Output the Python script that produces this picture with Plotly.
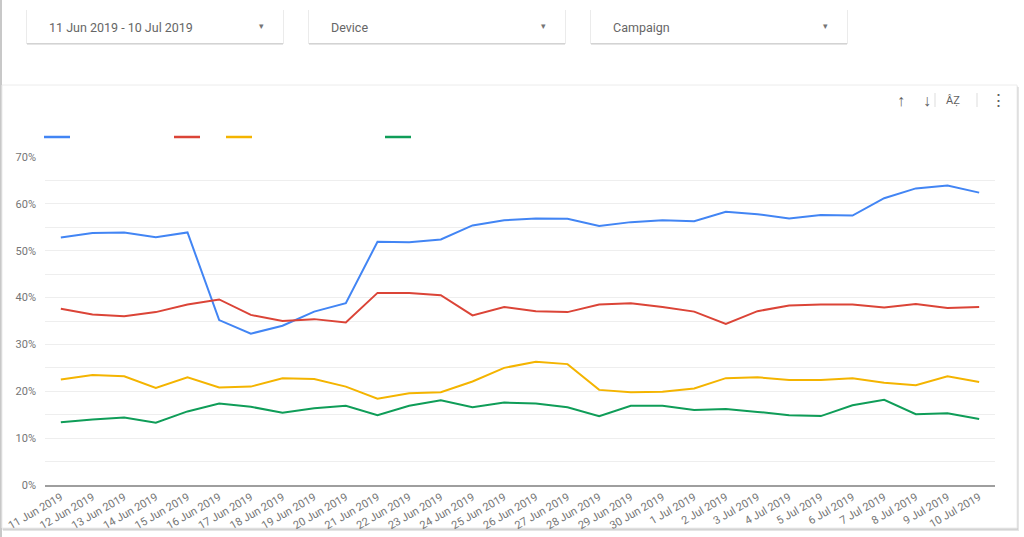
import plotly.graph_objects as go

W, H = 1024, 537

dates = [
    "11 Jun 2019", "12 Jun 2019", "13 Jun 2019", "14 Jun 2019", "15 Jun 2019",
    "16 Jun 2019", "17 Jun 2019", "18 Jun 2019", "19 Jun 2019", "20 Jun 2019",
    "21 Jun 2019", "22 Jun 2019", "23 Jun 2019", "24 Jun 2019", "25 Jun 2019",
    "26 Jun 2019", "27 Jun 2019", "28 Jun 2019", "29 Jun 2019", "30 Jun 2019",
    "1 Jul 2019", "2 Jul 2019", "3 Jul 2019", "4 Jul 2019", "5 Jul 2019",
    "6 Jul 2019", "7 Jul 2019", "8 Jul 2019", "9 Jul 2019", "10 Jul 2019",
]

blue_vals = [52.8, 53.8, 53.9, 52.9, 53.9, 35.2, 32.3, 34.0, 37.0, 38.8,
             51.9, 51.8, 52.4, 55.4, 56.5, 56.9, 56.8, 55.3, 56.1, 56.5,
             56.3, 58.3, 57.8, 56.9, 57.6, 57.5, 61.2, 63.3, 63.9, 62.4]
red_vals = [37.6, 36.4, 36.0, 36.9, 38.5, 39.6, 36.3, 35.0, 35.4, 34.7,
            41.0, 41.0, 40.5, 36.2, 38.0, 37.1, 36.9, 38.5, 38.8, 38.0,
            37.0, 34.4, 37.1, 38.3, 38.5, 38.5, 37.9, 38.6, 37.8, 38.0]
yellow_vals = [22.5, 23.5, 23.2, 20.7, 23.0, 20.8, 21.0, 22.8, 22.6, 21.0,
               18.4, 19.6, 19.8, 22.1, 25.0, 26.3, 25.8, 20.3, 19.8, 19.9,
               20.6, 22.8, 23.0, 22.4, 22.4, 22.8, 21.8, 21.3, 23.2, 22.0]
green_vals = [13.4, 14.0, 14.4, 13.3, 15.7, 17.4, 16.7, 15.4, 16.4, 16.9,
              14.9, 16.9, 18.1, 16.6, 17.6, 17.4, 16.6, 14.7, 16.9, 16.9,
              16.0, 16.2, 15.6, 14.9, 14.7, 17.0, 18.2, 15.1, 15.3, 14.1]

series_names = ["Series 1", "Series 2", "Series 3", "Series 4"]
series_colors = ["#4285f4", "#db4437", "#f4b400", "#0f9d58"]
filters = ["11 Jun 2019 - 10 Jul 2019", "Device", "Campaign"]


def px(x):
    return x / W


def py(y):
    return 1 - y / H


def rect(x0, y0, x1, y1, fill, line=None, width=0):
    return dict(type="rect", xref="paper", yref="paper", layer="below",
                x0=px(x0), x1=px(x1), y0=py(y1), y1=py(y0),
                fillcolor=fill, line=dict(color=line or fill, width=width))


def seg(x0, y0, x1, y1, color, width=1):
    return dict(type="line", xref="paper", yref="paper",
                x0=px(x0), x1=px(x1), y0=py(y0), y1=py(y1),
                line=dict(color=color, width=width))


fig = go.Figure()
for name, vals, color in zip(series_names,
                             [blue_vals, red_vals, yellow_vals, green_vals],
                             series_colors):
    fig.add_trace(go.Scatter(x=dates, y=vals, mode="lines", name=name,
                             line=dict(color=color, width=2)))

shapes = []
# page frame on the left
shapes.append(rect(0, 0, 2, H, "#c8c8c8"))
# chart card with soft shadow
shapes.append(rect(3, 87, 1019, 531, "rgba(0,0,0,0.10)"))
shapes.append(rect(2, 86, 1018, 530, "rgba(0,0,0,0.08)"))
shapes.append(rect(2, 85, 1017, 528, "#ffffff", "#ececec", 1))

# filter boxes
box_x = [27, 309, 591]
for bx in box_x:
    shapes.append(rect(bx, 11, bx + 256, 45, "rgba(0,0,0,0.10)"))
    shapes.append(rect(bx - 1, 10, bx + 257, 44, "rgba(0,0,0,0.08)"))
    shapes.append(rect(bx, 10, bx + 256, 43, "#ffffff"))

# legend swatches (legend labels are blank in the original)
legend_x = [44, 174, 226, 385]
for lx, color in zip(legend_x, series_colors):
    shapes.append(seg(lx, 137, lx + 26, 137, color, 2.5))

# toolbar separators
shapes.append(seg(935, 93, 935, 107, "#dddddd", 1))
shapes.append(seg(977, 93, 977, 107, "#dddddd", 1))

annotations = []
for bx, label in zip(box_x, filters):
    annotations.append(dict(x=px(bx + 20), y=py(27), xref="paper", yref="paper",
                            text=label, showarrow=False, xanchor="left",
                            yanchor="middle",
                            font=dict(size=12.5, color="#666666")))
    annotations.append(dict(x=px(bx + 234), y=py(26), xref="paper", yref="paper",
                            text="▾", showarrow=False, xanchor="center",
                            yanchor="middle",
                            font=dict(size=9, color="#757575")))

for ix, sym, size in [(901, "↑", 16), (927, "↓", 16), (953, "ÂẒ", 11),
                      (998, "⋮", 17)]:
    annotations.append(dict(x=px(ix), y=py(100), xref="paper", yref="paper",
                            text=sym, showarrow=False, xanchor="center",
                            yanchor="middle",
                            font=dict(size=size, color="#616161")))

fig.update_layout(
    width=W, height=H,
    margin=dict(l=0, r=0, t=0, b=0),
    paper_bgcolor="#ffffff",
    plot_bgcolor="rgba(0,0,0,0)",
    showlegend=False,
    font=dict(family="Roboto, Arial, sans-serif", color="#757575", size=11),
    shapes=shapes,
    annotations=annotations,
    xaxis=dict(
        type="category",
        domain=[px(45), px(995)],
        range=[-0.5, len(dates) - 0.5],
        tickangle=-30,
        showgrid=False,
        showline=True, linecolor="#9e9e9e", linewidth=1.5,
        ticks="", tickfont=dict(size=11, color="#757575"),
        automargin=False,
    ),
    yaxis=dict(
        domain=[py(485), py(157)],
        range=[0, 70],
        tick0=0, dtick=10,
        ticksuffix="%",
        showgrid=True, gridcolor="#eeeeee", gridwidth=1,
        minor=dict(dtick=5, showgrid=True, gridcolor="#eeeeee", gridwidth=1),
        zeroline=False,
        ticks="", ticklabelstandoff=8,
        tickfont=dict(size=11, color="#757575"),
        automargin=False,
    ),
)

fig.write_html("out.html",
               config={"displayModeBar": False},
               post_script="document.body.style.margin='0';"
                           "document.body.style.overflow='hidden';")
